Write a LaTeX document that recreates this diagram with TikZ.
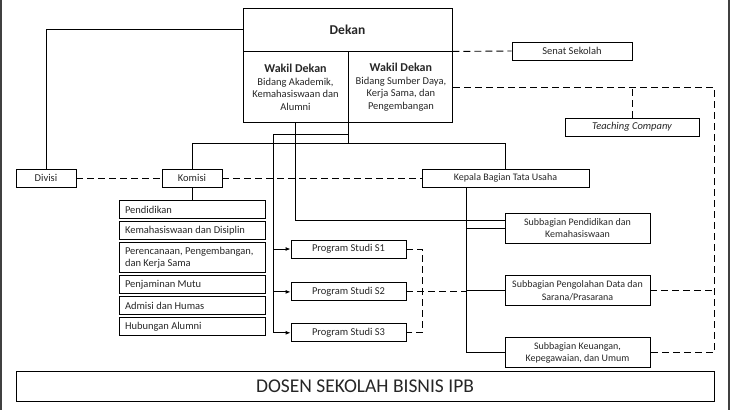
\documentclass[tikz,border=0pt]{standalone}
\usepackage{fontspec}
\setmainfont{Carlito}
\usetikzlibrary{positioning,arrows.meta,calc}

\begin{document}
\begin{tikzpicture}[
		x=1pt, y=-1pt,
		line width=0.9pt,
		every node/.style={
			font=\fontsize{10.5}{12.5}\selectfont,
			inner sep=0pt,
			text=black!85
		},
		unit/.style={draw, align=center, minimum height=18pt},
		wakil/.style={draw, align=center, anchor=north west, minimum height=71pt},
		komisibox/.style={draw, align=flush left, inner xsep=6pt, text width=134pt, minimum height=18pt},
		sub/.style={draw, align=center, minimum width=145pt, minimum height=30pt, font=\fontsize{10}{12.5}\selectfont},
		linkdash/.style={dash pattern=on 7pt off 4pt},
		arr/.style={-{Latex[length=5pt,width=4pt]}}
		]
		
		\useasboundingbox (0,0) rectangle (730,410);
		
		\node[draw, minimum width=209pt, minimum height=43pt, font=\fontsize{13.5}{16}\selectfont\bfseries] (dekan) at (347.5,29.5) {Dekan};
		
		\node[wakil, minimum width=105pt] (wda) at (dekan.south west) {{\fontsize{12}{14.5}\selectfont\bfseries Wakil Dekan}\\Bidang Akademik,\\Kemahasiswaan dan\\Alumni};
		
		\node[wakil, minimum width=104pt] (wdb) at (wda.north east) {{\fontsize{12}{14.5}\selectfont\bfseries Wakil Dekan}\\Bidang Sumber Daya,\\Kerja Sama, dan\\Pengembangan};
		
		\node[unit, minimum width=120pt] (senat) at (572,51) {Senat Sekolah};
		
		\node[unit, minimum width=134pt] (tc) at (632,127) {\itshape Teaching Company};
		
		\node[unit, minimum width=60pt] (divisi) at (46,178) {Divisi};
		
		\node[unit, minimum width=60pt] (komisi) at (192,178) {Komisi};
		
		\node[unit, minimum width=167pt, font=\fontsize{10}{12.5}\selectfont] (kbtu) at (505.5,178) {Kepala Bagian Tata Usaha};
		
		\node[komisibox, below=13pt of komisi] (k1) {Pendidikan};
		
		\node[komisibox, below=2pt of k1] (k2) {Kemahasiswaan dan Disiplin};
		
		\node[komisibox, below=2pt of k2, minimum height=30pt] (k3) {Perencanaan, Pengembangan,\\dan Kerja Sama};
		
		\node[komisibox, below=2pt of k3] (k4) {Penjaminan Mutu};
		
		\node[komisibox, below=2pt of k4] (k5) {Admisi dan Humas};
		
		\node[komisibox, below=2pt of k5] (k6) {Hubungan Alumni};
		
		\node[unit, minimum width=115pt] (ps1) at (348.5,249) {Program Studi S1};
		
		\node[unit, minimum width=115pt, below=24pt of ps1] (ps2) {Program Studi S2};
		
		\node[unit, minimum width=115pt, below=22pt of ps2] (ps3) {Program Studi S3};
		
		\node[sub] (sb1) at (577.5,228) {Subbagian Pendidikan dan\\Kemahasiswaan};
		
		\node[sub, below=32pt of sb1] (sb2) {Subbagian Pengolahan Data dan\\Sarana/Prasarana};
		
		\node[sub, below=31pt of sb2] (sb3) {Subbagian Keuangan,\\Kepegawaian, dan Umum};
		
		\node[draw, minimum width=698pt, minimum height=30pt, font=\fontsize{19.5}{22}\selectfont] (dosen) at (365,386) {DOSEN SEKOLAH BISNIS IPB};
		
		\coordinate (hub) at ($(wda.south east)+(0,20)$);
		\coordinate (psb) at ($(wda.south east)+(-75,11)$);
		\coordinate (tu) at ($(kbtu.south)+(-39.5,0)$);
		\coordinate (psr) at ($(ps2.east)+(16,0)$);
		
		% solid lines
		\draw (dekan.west) -| (divisi.north);
		\draw (wda.south east) -- (hub);
		\draw (komisi.north) |- (hub) -| (kbtu.north);
		\draw (komisi.south) -- (k1.north);
		\draw[arr] (wda.south east |- psb) -- (psb) |- (ps3.west);
		\draw[arr] (psb |- ps1.west) -- (ps1.west);
		\draw[arr] (psb |- ps2.west) -- (ps2.west);
		\draw (wda.south) |- ($(sb1.west)+(0,-8)$);
		\draw (tu) |- (sb3.west);
		\draw (tu |- sb1.west) -- (sb1.west);
		\draw (tu |- sb2.west) -- (sb2.west);
		
		% dashed lines
		\draw[linkdash] (divisi.east) -- (komisi.west);
		\draw[linkdash] (komisi.east) -- (kbtu.west);
		\draw[linkdash] (dekan.south east) -- (senat.west);
		\draw[linkdash] (wdb.east) -- (wdb.east -| dosen.east) |- (sb3.east);
		\draw[linkdash] (tc.north) -- (tc.north |- wdb.east);
		\draw[linkdash] (sb2.east) -- (sb2.east -| dosen.east);
		\draw[linkdash] (ps1.east) -| (psr) |- (ps3.east);
		\draw[linkdash] (ps2.east) -- (tu |- ps2.east);
		
		% frame
		\draw[line width=2pt, black!75] (1,0) -- (1,410);
		\draw[line width=2pt, black!75] (729,0) -- (729,410);
		
	\end{tikzpicture}
\end{document}
